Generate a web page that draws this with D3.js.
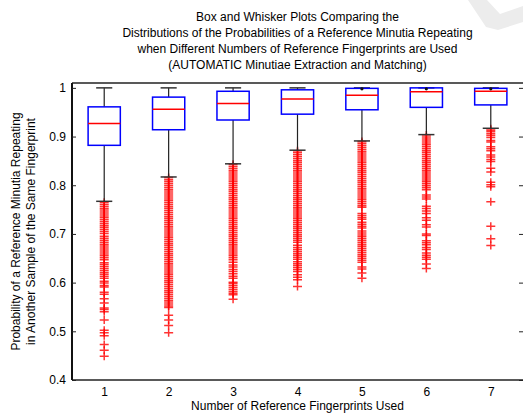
<!DOCTYPE html>
<html lang="en">
<head>
    <meta charset="UTF-8">
    <title>Box and Whisker</title>
    <script src="https://d3js.org/d3.v7.min.js"></script>
    <style>
        body { margin: 0; background: #fff; }
        text {
            font-family: 'Liberation Sans', Arial, sans-serif;
            font-size: 12px;
            fill: #000;
        }
    </style>
</head>
<body>
<script>
    const width  = 523;
    const height = 414;
    const margin = {top: 83, right: 0, bottom: 34, left: 72};

    const categories = [1, 2, 3, 4, 5, 6, 7];
    const q1       = [0.882, 0.914, 0.934, 0.946, 0.955, 0.960, 0.965];
    const median   = [0.927, 0.956, 0.968, 0.977, 0.985, 0.992, 0.993];
    const q3       = [0.961, 0.981, 0.993, 0.996, 0.999, 1.000, 0.999];
    const whiskLo  = [0.767, 0.817, 0.844, 0.872, 0.891, 0.904, 0.917];
    const whiskHi  = [1.000, 1.000, 1.000, 1.000, 1.000, 1.000, 1.000];
    const yTicks   = [0.4, 0.5, 0.6, 0.7, 0.8, 0.9, 1];

    // outliers, one list per box
    const outliers = [
        [0.765, 0.761, 0.757, 0.753, 0.749, 0.745, 0.741, 0.737, 0.733, 0.729, 0.725, 0.721, 0.717,
         0.713, 0.709, 0.705, 0.701, 0.695, 0.691, 0.687, 0.683, 0.679, 0.675, 0.671, 0.667, 0.663,
         0.659, 0.655, 0.651, 0.647, 0.641, 0.637, 0.633, 0.629, 0.625, 0.621, 0.617, 0.613, 0.609,
         0.603, 0.599, 0.594, 0.591, 0.580, 0.576, 0.567, 0.558, 0.548, 0.545, 0.540, 0.523, 0.502,
         0.497, 0.491, 0.473, 0.461, 0.449],
        [0.816, 0.812, 0.808, 0.804, 0.800, 0.796, 0.792, 0.788, 0.784, 0.780, 0.776, 0.772, 0.768,
         0.764, 0.760, 0.756, 0.752, 0.748, 0.744, 0.740, 0.736, 0.732, 0.728, 0.724, 0.720, 0.716,
         0.712, 0.708, 0.704, 0.700, 0.696, 0.692, 0.688, 0.684, 0.680, 0.676, 0.672, 0.668, 0.664,
         0.660, 0.656, 0.652, 0.648, 0.644, 0.640, 0.636, 0.632, 0.628, 0.624, 0.620, 0.616, 0.612,
         0.608, 0.604, 0.600, 0.596, 0.592, 0.588, 0.584, 0.580, 0.576, 0.572, 0.568, 0.564, 0.560,
         0.556, 0.552, 0.549, 0.533, 0.523, 0.512, 0.497],
        [0.843, 0.839, 0.835, 0.831, 0.827, 0.823, 0.819, 0.815, 0.811, 0.807, 0.803, 0.799, 0.795,
         0.791, 0.787, 0.783, 0.779, 0.775, 0.771, 0.767, 0.763, 0.759, 0.755, 0.751, 0.747, 0.743,
         0.739, 0.735, 0.731, 0.727, 0.723, 0.719, 0.715, 0.711, 0.707, 0.703, 0.699, 0.695, 0.691,
         0.687, 0.683, 0.679, 0.675, 0.671, 0.667, 0.663, 0.659, 0.655, 0.651, 0.647, 0.642, 0.636,
         0.632, 0.627, 0.623, 0.618, 0.613, 0.609, 0.601, 0.598, 0.594, 0.590, 0.586, 0.582, 0.578,
         0.575, 0.566],
        [0.871, 0.867, 0.863, 0.859, 0.855, 0.851, 0.847, 0.843, 0.839, 0.835, 0.831, 0.827, 0.823,
         0.819, 0.815, 0.811, 0.807, 0.803, 0.799, 0.795, 0.791, 0.787, 0.783, 0.779, 0.775, 0.771,
         0.767, 0.763, 0.759, 0.755, 0.751, 0.747, 0.743, 0.739, 0.735, 0.731, 0.727, 0.723, 0.719,
         0.715, 0.711, 0.707, 0.703, 0.699, 0.695, 0.691, 0.687, 0.683, 0.677, 0.672, 0.668, 0.664,
         0.660, 0.656, 0.652, 0.648, 0.643, 0.639, 0.635, 0.631, 0.627, 0.623, 0.616, 0.611, 0.606,
         0.592],
        [0.890, 0.886, 0.882, 0.878, 0.874, 0.870, 0.866, 0.862, 0.858, 0.854, 0.850, 0.846, 0.842,
         0.838, 0.834, 0.830, 0.826, 0.822, 0.818, 0.814, 0.810, 0.806, 0.802, 0.798, 0.794, 0.790,
         0.786, 0.782, 0.778, 0.774, 0.770, 0.766, 0.762, 0.758, 0.755, 0.742, 0.738, 0.734, 0.730,
         0.724, 0.720, 0.716, 0.712, 0.706, 0.702, 0.698, 0.694, 0.690, 0.686, 0.682, 0.678, 0.674,
         0.670, 0.666, 0.662, 0.658, 0.654, 0.650, 0.646, 0.642, 0.632, 0.628, 0.620, 0.609],
        [0.903, 0.899, 0.895, 0.891, 0.887, 0.883, 0.879, 0.875, 0.871, 0.867, 0.863, 0.859, 0.855,
         0.851, 0.847, 0.843, 0.839, 0.835, 0.831, 0.827, 0.823, 0.819, 0.815, 0.811, 0.807, 0.803,
         0.799, 0.795, 0.791, 0.780, 0.776, 0.772, 0.757, 0.752, 0.747, 0.742, 0.733, 0.728, 0.719,
         0.714, 0.700, 0.697, 0.686, 0.682, 0.678, 0.672, 0.668, 0.661, 0.656, 0.652, 0.648, 0.638,
         0.629],
        [0.916, 0.913, 0.910, 0.906, 0.902, 0.898, 0.892, 0.889, 0.879, 0.875, 0.871, 0.862, 0.858,
         0.853, 0.849, 0.835, 0.827, 0.806, 0.801, 0.797, 0.766, 0.716, 0.690, 0.676]
    ];

    const titleLines = [
        "Box and Whisker Plots Comparing the",
        "Distributions of the Probabilities of a Reference Minutia Repeating",
        "when Different Numbers of Reference Fingerprints are Used",
        "(AUTOMATIC Minutiae Extraction and Matching)"
    ];
    const yLabelLines = [
        "Probability of a Reference Minutia Repeating",
        "in Another Sample of the Same Fingerprint"
    ];

    const svg = d3.select("body").append("svg").attr("width", width).attr("height", height);

    // faint watermark in the corner of the scanned page
    svg.append("path")
        .attr("d", "M468,0 L487,0 L500,14 L523,6 L523,22 L498,30 L486,27 Z")
        .attr("fill", "#ececec");

    const x = d3.scaleLinear().domain([0.5, 7.5]).range([margin.left, width - margin.right]);
    const y = d3.scaleLinear().domain([0.4, 1.01]).range([height - margin.bottom, margin.top]);

    const boxW = (x(1.25) - x(1)) * 2;
    const capW = x(1.125) - x(1);

    const plot = svg.append("g");

    // outliers first so the boxes and whiskers sit on top
    categories.forEach((c, i) => {
        plot.selectAll(".out" + i)
            .data(outliers[i])
            .enter().append("path")
            .attr("d", d => "M" + (x(c) - 4.5) + "," + y(d) + "h9M" + x(c) + "," + (y(d) - 4) + "v8")
            .attr("stroke", "#ff0000")
            .attr("stroke-width", 1.5)
            .attr("stroke-opacity", 0.8)
            .attr("fill", "none");
    });

    categories.forEach((c, i) => {
        const g = plot.append("g");
        // whiskers
        g.append("line")
            .attr("x1", x(c)).attr("x2", x(c))
            .attr("y1", y(q1[i])).attr("y2", y(whiskLo[i]))
            .attr("stroke", "#222").attr("stroke-width", 1.2);
        g.append("line")
            .attr("x1", x(c)).attr("x2", x(c))
            .attr("y1", y(q3[i])).attr("y2", y(whiskHi[i]))
            .attr("stroke", "#222").attr("stroke-width", 1.2);
        [whiskLo[i], whiskHi[i]].forEach(v => {
            g.append("line")
                .attr("x1", x(c) - capW).attr("x2", x(c) + capW)
                .attr("y1", y(v)).attr("y2", y(v))
                .attr("stroke", "#333").attr("stroke-width", 1.5);
        });
        g.append("rect")
            .attr("x", x(c) - boxW / 2)
            .attr("y", y(q3[i]))
            .attr("width", boxW)
            .attr("height", y(q1[i]) - y(q3[i]))
            .attr("fill", "none")
            .attr("stroke", "#0000ff")
            .attr("stroke-width", 1.5);
        g.append("line")
            .attr("x1", x(c) - boxW / 2).attr("x2", x(c) + boxW / 2)
            .attr("y1", y(median[i])).attr("y2", y(median[i]))
            .attr("stroke", "#ff0000").attr("stroke-width", 1.5);
        if (q3[i] >= 0.999) {
            g.append("circle")
                .attr("cx", x(c)).attr("cy", y(whiskHi[i]) + 1)
                .attr("r", 1.6).attr("fill", "#111");
        }
    });

    // axes frame
    const x0 = margin.left, x1 = width - margin.right;
    const y0 = height - margin.bottom, y1 = margin.top;
    svg.append("line").attr("x1", x0).attr("x2", x1).attr("y1", y1).attr("y2", y1)
        .attr("stroke", "#222").attr("stroke-width", 1.5);
    svg.append("line").attr("x1", x0).attr("x2", x1).attr("y1", y0).attr("y2", y0)
        .attr("stroke", "#222").attr("stroke-width", 1.5);
    svg.append("line").attr("x1", x0).attr("x2", x0).attr("y1", y1).attr("y2", y0)
        .attr("stroke", "#111").attr("stroke-width", 2);

    const yAxis = svg.append("g")
        .attr("transform", "translate(" + x0 + ",0)")
        .call(d3.axisLeft(y).tickValues(yTicks).tickSize(-4).tickPadding(6).tickFormat(d3.format("")));
    yAxis.select(".domain").remove();
    yAxis.selectAll(".tick line").attr("stroke", "#222");
    yAxis.selectAll("text").style("font-size", "12px").attr("fill", "#000");

    const yAxisR = svg.append("g")
        .attr("transform", "translate(" + x1 + ",0)")
        .call(d3.axisRight(y).tickValues(yTicks).tickSize(-4).tickFormat(""));
    yAxisR.select(".domain").remove();
    yAxisR.selectAll(".tick line").attr("stroke", "#222");

    const xAxis = svg.append("g")
        .attr("transform", "translate(0," + y0 + ")")
        .call(d3.axisBottom(x).tickValues(categories).tickSize(0).tickPadding(7).tickFormat(d3.format("d")));
    xAxis.select(".domain").remove();
    xAxis.selectAll("text").style("font-size", "12px").attr("fill", "#000");

    // titles
    const cx = (x0 + x1) / 2;
    svg.append("g").selectAll("text")
        .data(titleLines)
        .enter().append("text")
        .attr("x", cx)
        .attr("y", (d, i) => 21 + i * 16)
        .attr("text-anchor", "middle")
        .text(d => d);

    svg.append("text")
        .attr("x", cx).attr("y", 410)
        .attr("text-anchor", "middle")
        .text("Number of Reference Fingerprints Used");

    svg.append("g").selectAll("text")
        .data(yLabelLines)
        .enter().append("text")
        .attr("transform", (d, i) => "translate(" + (20 + i * 15) + "," + ((y0 + y1) / 2) + ") rotate(-90)")
        .attr("text-anchor", "middle")
        .text(d => d);
</script>
</body>
</html>
